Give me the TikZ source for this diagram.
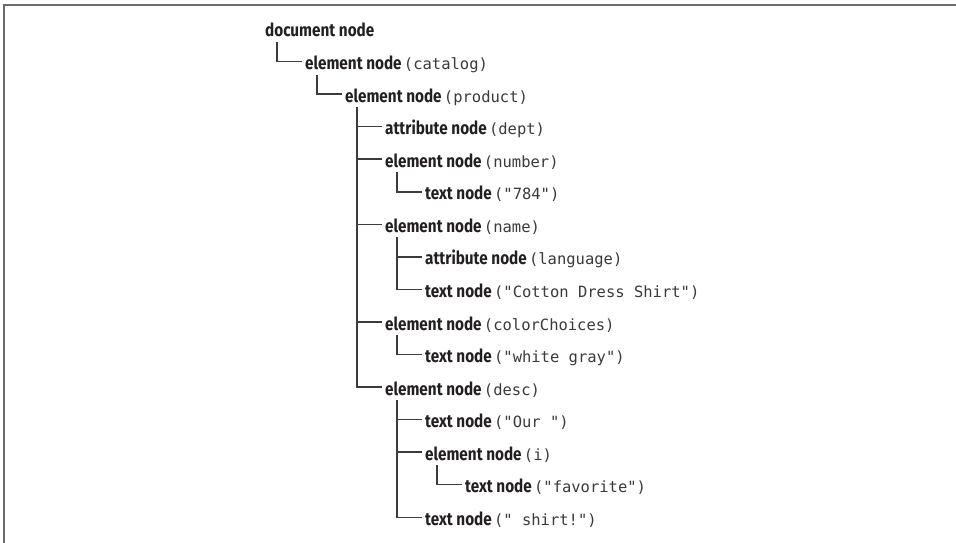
\documentclass[tikz,border=0pt]{standalone}
\usepackage{fontspec}
\setmainfont{Fira Sans}[FakeStretch=0.85]
\setmonofont{DejaVu Sans Mono}
\usetikzlibrary{positioning, calc}
\definecolor{ink}{HTML}{231F20}
\definecolor{codegray}{HTML}{3A3A3A}
\definecolor{linegray}{HTML}{3C3C3C}
\newcommand{\kind}[1]{{\fontsize{18}{20}\selectfont\bfseries #1}}
\newcommand{\what}[1]{{\fontsize{15.5}{18}\selectfont\ttfamily\color{codegray}#1}}

\begin{document}
\begin{tikzpicture}[x=1pt, y=-1pt,
    dom/.style={anchor=base west, inner sep=0pt, text=ink},
    branch/.style={draw=linegray, line width=1.5pt,
      to path={([xshift=12pt,yshift=-5pt]\tikztostart.base west) |- ([xshift=-3pt,yshift=8pt]\tikztotarget.base west)}}]
  \useasboundingbox (0,0) rectangle (956,543);
  % frame
  \draw [gray!85!black, line width=1.6pt] (4,543) -- (4,5) -- (956,5);

  \node (doc) [dom] at (265,37.0) {\kind{document node}};
  \node (catalog) [dom] at (305,69.6) {\kind{element node} \what{(catalog)}};
  \node (product) [dom] at (345,102.1) {\kind{element node} \what{(product)}};
  \node (dept) [dom] at (385,134.7) {\kind{attribute node} \what{(dept)}};
  \node (number) [dom] at (385,167.2) {\kind{element node} \what{(number)}};
  \node (numtext) [dom] at (425,199.8) {\kind{text node} \what{("784")}};
  \node (name) [dom] at (385,232.3) {\kind{element node} \what{(name)}};
  \node (lang) [dom] at (425,264.9) {\kind{attribute node} \what{(language)}};
  \node (nametext) [dom] at (425,297.4) {\kind{text node} \what{("Cotton Dress Shirt")}};
  \node (colors) [dom] at (385,330.0) {\kind{element node} \what{(colorChoices)}};
  \node (colortext) [dom] at (425,362.5) {\kind{text node} \what{("white gray")}};
  \node (desc) [dom] at (385,395.1) {\kind{element node} \what{(desc)}};
  \node (our) [dom] at (425,427.6) {\kind{text node} \what{("Our ")}};
  \node (ital) [dom] at (425,460.2) {\kind{element node} \what{(i)}};
  \node (fav) [dom] at (465,492.7) {\kind{text node} \what{("favorite")}};
  \node (shirt) [dom] at (425,525.3) {\kind{text node} \what{(" shirt!")}};

  \path [branch]
  (doc) edge (catalog)
  (catalog) edge (product)
  (product) edge (dept)
  (product) edge (number)
  (product) edge (name)
  (product) edge (colors)
  (product) edge (desc)
  (number) edge (numtext)
  (name) edge (lang)
  (name) edge (nametext)
  (colors) edge (colortext)
  (desc) edge (our)
  (desc) edge (ital)
  (desc) edge (shirt)
  (ital) edge (fav);
\end{tikzpicture}
\end{document}
